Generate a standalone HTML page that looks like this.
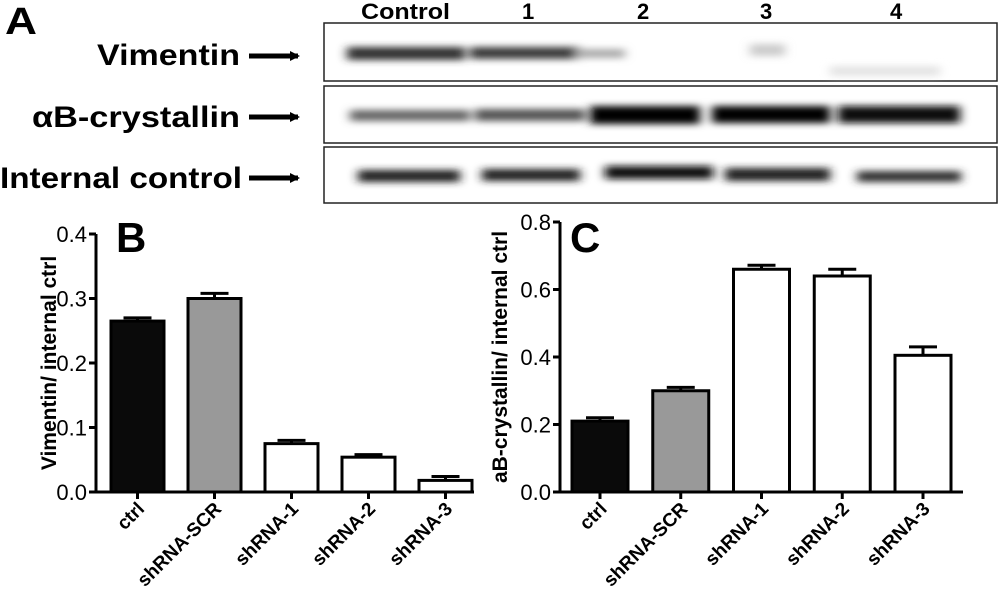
<!DOCTYPE html>
<html><head><meta charset="utf-8"><style>
body{margin:0;background:#fff}
svg{display:block}
text{font-family:"Liberation Sans",Arial,sans-serif}
.nar{font-weight:bold}
</style></head><body>
<svg id="fig" width="1000" height="600" viewBox="0 0 1000 600">
<defs>
<filter id="bl" x="-20%" y="-150%" width="140%" height="400%"><feGaussianBlur stdDeviation="5 3.5"/></filter>
<marker id="ah" markerWidth="10" markerHeight="10" refX="8" refY="5" orient="auto" markerUnits="userSpaceOnUse"><path d="M0,0 L10,5 L0,10 z" fill="#000"/></marker>
</defs>
<g>
<text x="5" y="34" font-size="38" class="nar" textLength="32" lengthAdjust="spacingAndGlyphs">A</text>
<g font-size="22" class="nar">
<text x="361" y="19" textLength="89" lengthAdjust="spacingAndGlyphs">Control</text>
<text x="522" y="19">1</text>
<text x="637" y="19">2</text>
<text x="760" y="19">3</text>
<text x="890" y="19">4</text>
</g>
<g font-size="30" class="nar">
<text x="97" y="65" textLength="143" lengthAdjust="spacingAndGlyphs">Vimentin</text>
<text x="32" y="127" textLength="208" lengthAdjust="spacingAndGlyphs">αB-crystallin</text>
<text x="0" y="188" textLength="242" lengthAdjust="spacingAndGlyphs">Internal control</text>
</g>
<g stroke="#000" stroke-width="5" marker-end="url(#ah)">
<line x1="249" y1="56" x2="298" y2="56"/>
<line x1="249" y1="117" x2="298" y2="117"/>
<line x1="249" y1="178" x2="298" y2="178"/>
</g>
<g fill="none" stroke="#222" stroke-width="1.5">
<rect x="324" y="23" width="673" height="58"/>
<rect x="324" y="86" width="673" height="57"/>
<rect x="324" y="147" width="673" height="56"/>
</g>
<g filter="url(#bl)">
<rect x="347" y="47" width="118" height="13" fill="#333"/>
<rect x="470" y="47" width="110" height="12" fill="#3a3a3a"/>
<rect x="575" y="49" width="50" height="9" fill="#aaa"/>
<rect x="750" y="44" width="35" height="12" fill="#ccc"/>
<rect x="830" y="66" width="110" height="10" fill="#e4e4e4"/>
<rect x="350" y="110" width="120" height="11" fill="#666"/>
<rect x="475" y="109" width="110" height="12" fill="#555"/>
<rect x="590" y="106" width="110" height="18" fill="#000"/>
<rect x="712" y="106" width="118" height="17" fill="#000"/>
<rect x="838" y="106" width="122" height="17" fill="#111"/>
<rect x="358" y="170" width="102" height="12" fill="#222"/>
<rect x="482" y="169" width="98" height="12" fill="#222"/>
<rect x="605" y="166" width="108" height="13" fill="#111"/>
<rect x="725" y="168" width="105" height="13" fill="#222"/>
<rect x="857" y="171" width="104" height="11" fill="#333"/>
</g>
</g>
<g id="chartB"></g>
<g id="chartC"></g>
</svg>
<script>
const categories = ["ctrl","shRNA-SCR","shRNA-1","shRNA-2","shRNA-3"];
const vimentinValues = [0.265,0.30,0.075,0.054,0.018];
const vimentinErrors = [0.005,0.008,0.005,0.004,0.006];
const vimentinTicks = [0.0,0.1,0.2,0.3,0.4];
const crystallinValues = [0.21,0.30,0.66,0.64,0.405];
const crystallinErrors = [0.01,0.01,0.012,0.02,0.025];
const crystallinTicks = [0.0,0.2,0.4,0.6,0.8];
const fills = ["#0a0a0a","#999","#fff","#fff","#fff"];
const NS="http://www.w3.org/2000/svg";
function mk(p,t,a){const e=document.createElementNS(NS,t);for(const k in a)e.setAttribute(k,a[k]);p.appendChild(e);return e;}
function chart(g,cfg){
  const y=v=>cfg.y0-(v/cfg.max)*(cfg.y0-cfg.yTop);
  const ax=mk(g,'path',{d:`M${cfg.ax},${cfg.yTop} V${cfg.y0} H${cfg.axEnd}`,fill:'none',stroke:'#000','stroke-width':3});
  
  
  cfg.ticks.forEach(t=>{
    const l=mk(g,'line',{x1:cfg.ax-7,x2:cfg.ax,y1:y(t),y2:y(t),stroke:'#000','stroke-width':3});
    
    
    const tx=mk(g,'text',{x:cfg.ax-9,y:y(t)+8,'text-anchor':'end','font-size':22});
    tx.textContent=t.toFixed(1);
    
    
  });
  categories.forEach((c,i)=>{
    const x0=cfg.x0+i*cfg.step, cx=x0+cfg.bw/2;
    const v=cfg.vals[i], e=cfg.errs[i];
    const el=mk(g,'line',{x1:cx,x2:cx,y1:y(v),y2:y(v+e),stroke:'#000','stroke-width':3});
    
    
    const cap=mk(g,'line',{x1:cx-14,x2:cx+14,y1:y(v+e),y2:y(v+e),stroke:'#000','stroke-width':3});
    
    
    const r=mk(g,'rect',{x:x0,y:y(v),width:cfg.bw,height:cfg.y0-y(v),fill:fills[i],stroke:'#000','stroke-width':3});
    
    
    const tk=mk(g,'line',{x1:cx,x2:cx,y1:cfg.y0,y2:cfg.y0+7,stroke:'#000','stroke-width':3});
    
    
    const lb=mk(g,'text',{transform:`translate(${cx+8},${cfg.y0+18}) rotate(-45)`,'text-anchor':'end','font-size':19,'font-weight':'bold'});
    lb.textContent=c;
    
    
  });
  const tt=mk(g,'text',{transform:`translate(${cfg.titleX},${(cfg.y0+cfg.yTop)/2}) rotate(-90)`,'text-anchor':'middle','font-size':21,'font-weight':'bold'});
  tt.textContent=cfg.title;
  
  
  const pl=mk(g,'text',{x:cfg.plX,y:252,'font-size':42,'font-weight':'bold'});
  pl.textContent=cfg.panel;
  
  
}
chart(document.getElementById('chartB'),{ax:96,axEnd:474,y0:492,yTop:234,max:0.4,ticks:vimentinTicks,vals:vimentinValues,errs:vimentinErrors,x0:111,step:77,bw:53,title:"Vimentin/ internal ctrl",titleX:56,panel:"B",plX:116});
chart(document.getElementById('chartC'),{ax:560,axEnd:963,y0:492,yTop:222,max:0.8,ticks:crystallinTicks,vals:crystallinValues,errs:crystallinErrors,x0:572,step:80.75,bw:56,title:"aB-crystallin/ internal ctrl",titleX:507,panel:"C",plX:570});
</script>
</body></html>
